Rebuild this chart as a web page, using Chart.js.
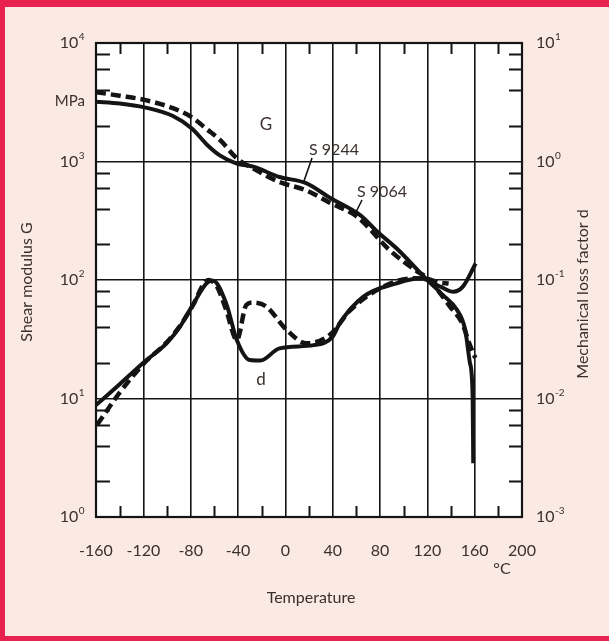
<!DOCTYPE html>
<html>
<head>
<meta charset="utf-8">
<script src="https://cdn.jsdelivr.net/npm/chart.js@4/dist/chart.umd.min.js"></script>
<style>
  html, body { margin: 0; padding: 0; background: #fbe9e3; }
  #box { width: 609px; height: 641px; }
</style>
</head>
<body>
<div id="box"><canvas id="myChart" width="609" height="641"></canvas></div>
<script>
// temperature axis
var xTicks = [-160, -120, -80, -40, 0, 40, 80, 120, 160, 200];
var leftExps = [0, 1, 2, 3, 4];      // shear modulus 10^0 .. 10^4 MPa
var rightExps = [-3, -2, -1, 0, 1];  // loss factor 10^-3 .. 10^1

// shear modulus G, S 9244 (solid)
var tempG9244 = [-160, -140, -119, -95, -79, -66, -55, -41, -27, -5, 17, 38, 63, 78, 95, 114, 120, 133, 145, 152, 156, 158.3, 158.8];
var modG9244  = [3200, 3090, 2865, 2420, 1900, 1380, 1120, 960, 904, 740, 659, 492, 354, 254, 181, 115, 100, 75, 56, 38, 20, 10.4, 2.84];

// shear modulus G, S 9064 (dashed)
var tempG9064 = [-160, -140, -119, -95, -79, -66, -55, -41, -27, -5, 17, 38, 61, 88, 112, 120, 139, 150, 155, 160.5];
var modG9064  = [3846, 3589, 3311, 2818, 2360, 1862, 1514, 1064, 871, 671, 574, 447, 340, 179, 117, 104, 60, 42, 30, 22];

// loss factor d, S 9244 (solid)
var tempD9244 = [-160, -140, -119, -100, -89, -79, -65, -61, -50, -41, -30, -21, -5, 24, 40, 46, 66, 94, 114, 131, 142, 150, 160.8];
var lossD9244 = [0.0088, 0.0132, 0.0204, 0.0295, 0.0404, 0.0596, 0.0968, 0.0986, 0.0635, 0.0312, 0.0211, 0.0209, 0.0265, 0.0282, 0.0333, 0.0432, 0.0723, 0.0938, 0.1033, 0.0879, 0.0796, 0.0879, 0.138];

// loss factor d, S 9064 (dashed)
var tempD9064 = [-159, -140, -119, -100, -89, -79, -65, -58, -50, -41, -33, -27, -16, 1, 18, 38, 55, 83, 108, 120, 130, 138];
var lossD9064 = [0.0060, 0.0112, 0.020, 0.030, 0.041, 0.059, 0.100, 0.089, 0.056, 0.0312, 0.0615, 0.0646, 0.0596, 0.038, 0.0292, 0.0347, 0.0558, 0.0879, 0.1033, 0.102, 0.0955, 0.0933];

var ink = '#141414';
var textCol = '#3a302d';
var fontFam = 'Lato, "DejaVu Sans", sans-serif';

function pts(xs, ys) {
  return xs.map((t, i) => ({ x: t, y: ys[i] }));
}

// background + red frame, minor ticks, texts
var decor = {
  id: 'decor',
  beforeDraw(chart) {
    const c = chart.ctx;
    c.save();
    c.fillStyle = '#fbe9e3';
    c.fillRect(0, 0, chart.width, chart.height);
    c.fillStyle = '#e8214f';
    c.fillRect(0, 0, chart.width, 7);
    c.fillRect(0, 0, 5, chart.height);
    c.fillRect(0, chart.height - 5, chart.width, 5);
    const a = chart.chartArea;
    c.fillStyle = '#ffffff';
    c.fillRect(a.left, a.top, a.right - a.left, a.bottom - a.top);
    c.restore();
  },
  beforeDatasetsDraw(chart) {
    const c = chart.ctx;
    const a = chart.chartArea;
    const xs = chart.scales.x, ys = chart.scales.y, y2 = chart.scales.y2;
    c.save();
    c.strokeStyle = ink;
    c.lineWidth = 2;
    c.beginPath();
    for (let d = 0; d < 4; d++) {
      [2, 4, 6, 8].forEach(m => {
        const yp = Math.round(ys.getPixelForValue(m * Math.pow(10, d))) + 0.5;
        c.moveTo(a.left, yp); c.lineTo(a.left + 14, yp);
        const yq = Math.round(y2.getPixelForValue(m * Math.pow(10, d - 3))) + 0.5;
        c.moveTo(a.right - 13, yq); c.lineTo(a.right, yq);
      });
    }
    for (let t = -140; t < 200; t += 40) {
      const xp = Math.round(xs.getPixelForValue(t)) + 0.5;
      c.moveTo(xp, a.top); c.lineTo(xp, a.top + 11);
      c.moveTo(xp, a.bottom); c.lineTo(xp, a.bottom - 11);
    }
    c.stroke();
    c.lineWidth = 2.2;
    c.strokeRect(a.left, a.top, a.right - a.left, a.bottom - a.top);
    c.restore();
  },
  afterDraw(chart) {
    const c = chart.ctx;
    const a = chart.chartArea;
    const ys = chart.scales.y, y2 = chart.scales.y2;
    c.save();
    c.fillStyle = textCol;
    c.textBaseline = 'middle';
    const pow = (x, y, e, align) => {
      c.font = '16px ' + fontFam;
      const w1 = c.measureText('10').width;
      c.font = '10px ' + fontFam;
      const w2 = c.measureText(e).width;
      let x0 = align === 'right' ? x - w1 - w2 : x;
      c.textAlign = 'left';
      c.font = '16px ' + fontFam;
      c.fillText('10', x0, y);
      c.font = '10px ' + fontFam;
      c.fillText(e, x0 + w1 + 0.5, y - 6);
    };
    leftExps.forEach(e => pow(a.left - 12, ys.getPixelForValue(Math.pow(10, e)), String(e), 'right'));
    rightExps.forEach(e => pow(a.right + 14, y2.getPixelForValue(Math.pow(10, e)), String(e), 'left'));

    c.font = '15px ' + fontFam;
    c.textAlign = 'right';
    c.fillText('MPa', a.left - 11, 101);

    c.textAlign = 'center';
    c.font = '16px ' + fontFam;
    c.fillText('Temperature', 311, 598);
    c.fillText('\u00B0C', 502, 569);

    c.font = '17px ' + fontFam;
    c.fillText('G', 266, 125);
    c.fillText('d', 261, 380);
    c.font = '16px ' + fontFam;
    c.fillText('S 9244', 334, 150);
    c.fillText('S 9064', 382, 192);

    c.strokeStyle = ink;
    c.lineWidth = 1.6;
    c.beginPath();
    c.moveTo(312, 158); c.lineTo(304, 181);
    c.moveTo(362, 200); c.lineTo(356, 212);
    c.stroke();

    c.font = '16px ' + fontFam;
    c.save();
    c.translate(27, 282);
    c.rotate(-Math.PI / 2);
    c.fillText('Shear modulus G', 0, 0);
    c.restore();
    c.save();
    c.translate(583, 294);
    c.rotate(-Math.PI / 2);
    c.fillText('Mechanical loss factor d', 0, 0);
    c.restore();
    c.restore();
  }
};

new Chart('myChart', {
  type: 'line',
  data: {
    datasets: [
      { label: 'G S 9244', data: pts(tempG9244, modG9244), yAxisID: 'y',
        borderColor: ink, borderWidth: 4 },
      { label: 'G S 9064', data: pts(tempG9064, modG9064), yAxisID: 'y',
        borderColor: ink, borderWidth: 4.5, borderDash: [10, 5] },
      { label: 'd S 9244', data: pts(tempD9244, lossD9244), yAxisID: 'y2',
        borderColor: ink, borderWidth: 4 },
      { label: 'd S 9064', data: pts(tempD9064, lossD9064), yAxisID: 'y2',
        borderColor: ink, borderWidth: 4.5, borderDash: [10, 5] }
    ]
  },
  options: {
    responsive: false,
    devicePixelRatio: 1,
    animation: false,
    layout: { padding: { top: 43, left: 0, right: 0, bottom: 0 } },
    elements: {
      point: { radius: 0 },
      line: { cubicInterpolationMode: 'monotone', fill: false, borderCapStyle: 'butt' }
    },
    plugins: { legend: { display: false }, tooltip: { enabled: false } },
    scales: {
      x: {
        type: 'linear', min: -160, max: 200,
        afterBuildTicks: s => { s.ticks = xTicks.map(v => ({ value: v })); },
        afterFit: s => { s.height = 124; },
        ticks: { color: textCol, font: { size: 16, family: fontFam }, padding: 24, maxRotation: 0, autoSkip: false },
        grid: { color: ink, lineWidth: 1.6, drawTicks: false },
        border: { display: false }
      },
      y: {
        type: 'logarithmic', position: 'left', min: 1, max: 10000,
        afterBuildTicks: s => { s.ticks = leftExps.map(e => ({ value: Math.pow(10, e) })); },
        afterFit: s => { s.width = 96; },
        ticks: { display: false },
        grid: { color: ink, lineWidth: 1.6, drawTicks: false },
        border: { display: false }
      },
      y2: {
        type: 'logarithmic', position: 'right', min: 0.001, max: 10,
        afterBuildTicks: s => { s.ticks = rightExps.map(e => ({ value: Math.pow(10, e) })); },
        afterFit: s => { s.width = 87; },
        ticks: { display: false },
        grid: { display: false },
        border: { display: false }
      }
    }
  },
  plugins: [decor]
});
</script>
</body>
</html>
